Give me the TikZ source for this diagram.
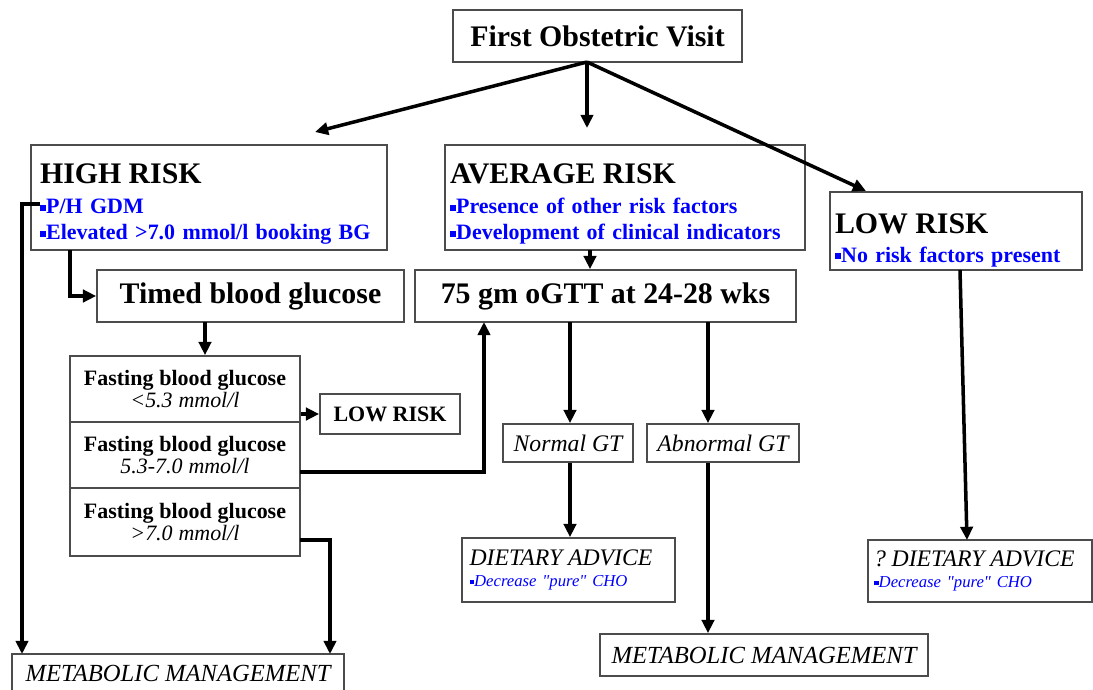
\documentclass[tikz,border=0pt]{standalone}
\usepackage{fontspec}
\setmainfont{Liberation Serif}
\newfontfamily\qfont{Liberation Serif}
\usetikzlibrary{arrows.meta, positioning}
\tikzstyle{box}=[draw=black!70, line width=1pt, shape=rectangle, inner sep=0pt, align=center]
\tikzstyle{arr}=[line width=2pt, -{Triangle[length=7.5pt,width=7pt]}]
\newcommand{\sqb}{\rule[0.28ex]{0.28em}{0.28em}}
\newcommand{\qt}{{\qfont\itshape"}}

\begin{document}
\begin{tikzpicture}[x=0.02cm, y=-0.02cm]
	\useasboundingbox (0,0) rectangle (1093,690);

	\node[style=box, minimum width=5.78cm, minimum height=1.04cm, font=\fontsize{17}{20}\selectfont\bfseries] (1) at (597.5,36) {First Obstetric Visit};
	\node[style=box, minimum width=7.12cm, minimum height=2.1cm, text width=6.76cm, align=left, font=\fontsize{12.5}{15}\selectfont] (2) at (209,197.5) {\rule{0pt}{19pt}\fontsize{17}{20}\selectfont\bfseries HIGH RISK\\[2pt]\color{blue}\fontsize{12.5}{15}\selectfont \sqb P/H GDM\\\sqb Elevated >7.0 mmol/l booking BG};
	\node[style=box, minimum width=7.2cm, minimum height=2.1cm, text width=7cm, align=left, font=\fontsize{12.5}{15}\selectfont] (3) at (625,197.5) {\rule{0pt}{19pt}\fontsize{17}{20}\selectfont\bfseries AVERAGE RISK\\[2pt]\color{blue}\fontsize{12.5}{15}\selectfont \sqb Presence of other risk factors\\\sqb Development of clinical indicators};
	\node[style=box, minimum width=5.04cm, minimum height=1.56cm, text width=4.84cm, align=left, font=\fontsize{12.5}{15}\selectfont] (4) at (956,231) {\rule{0pt}{22pt}\fontsize{17}{20}\selectfont\bfseries LOW RISK\\[1pt]\color{blue}\fontsize{12.5}{15}\selectfont \sqb No risk factors present};
	\node[style=box, minimum width=6.14cm, minimum height=1.04cm, font=\fontsize{17}{20}\selectfont\bfseries] (5) at (250.5,296) {Timed blood glucose};
	\node[style=box, minimum width=7.62cm, minimum height=1.04cm, font=\fontsize{17}{20}\selectfont\bfseries] (6) at (605.5,296) {75 gm oGTT at 24-28 wks};
	\node[style=box, minimum width=4.6cm, minimum height=1.32cm, text width=4.6cm] (7) at (185,389) {\fontsize{12.5}{15}\selectfont\bfseries Fasting blood glucose\\\mdseries\itshape <5.3 mmol/l};
	\node[style=box, minimum width=4.6cm, minimum height=1.32cm, text width=4.6cm] (8) at (185,455) {\fontsize{12.5}{15}\selectfont\bfseries Fasting blood glucose\\\mdseries\itshape 5.3-7.0 mmol/l};
	\node[style=box, minimum width=4.6cm, minimum height=1.36cm, text width=4.6cm] (9) at (185,522) {\fontsize{12.5}{15}\selectfont\bfseries Fasting blood glucose\\\mdseries\itshape >7.0 mmol/l};
	\node[style=box, minimum width=2.8cm, minimum height=0.8cm, font=\fontsize{12.5}{15}\selectfont\bfseries] (10) at (390,414) {LOW RISK};
	\node[style=box, minimum width=2.6cm, minimum height=0.76cm, font=\fontsize{13.5}{16}\selectfont\itshape] (11) at (568,443) {Normal GT};
	\node[style=box, minimum width=3.04cm, minimum height=0.76cm, font=\fontsize{13.5}{16}\selectfont\itshape] (12) at (723,443) {Abnormal GT};
	\node[style=box, minimum width=4.26cm, minimum height=1.28cm, text width=3.96cm, align=left] (13) at (568.5,570) {\fontsize{13.5}{16}\selectfont\itshape DIETARY ADVICE\\\color{blue}\fontsize{9.5}{12}\selectfont \sqb Decrease \qt pure\qt\ CHO};
	\node[style=box, minimum width=4.48cm, minimum height=1.24cm, text width=4.24cm, align=left] (14) at (980,571) {\fontsize{13.5}{16}\selectfont\itshape ?\ DIETARY ADVICE\\\color{blue}\fontsize{9.5}{12}\selectfont \sqb Decrease \qt pure\qt\ CHO};
	\node[style=box, minimum width=6.64cm, minimum height=0.78cm, font=\fontsize{14}{17}\selectfont\itshape] (15) at (178,673.5) {METABOLIC MANAGEMENT};
	\node[style=box, minimum width=6.56cm, minimum height=0.84cm, font=\fontsize{14}{17}\selectfont\itshape] (16) at (764,655) {METABOLIC MANAGEMENT};

	% bends and free ends
	\coordinate (c0) at (587,62);
	\coordinate (e1) at (315,132);
	\coordinate (e2) at (587,128);
	\coordinate (e3) at (866,191);
	\coordinate (c1) at (590,250);
	\coordinate (c2) at (70,250);
	\coordinate (c3) at (40,204);
	\coordinate (c4) at (22,654);
	\coordinate (c5) at (205,322);
	\coordinate (c6) at (300,472);
	\coordinate (c7) at (484,322);
	\coordinate (c8) at (300,540);
	\coordinate (c9) at (330,654);
	\coordinate (c10) at (570,322);
	\coordinate (c11) at (708,322);
	\coordinate (c12) at (960,270);
	\coordinate (c13) at (967,540);

	\draw[arr] (c0) to (e1);
	\draw[arr] (c0) to (e2);
	\draw[arr] (c0) to (e3);
	\draw[arr] (c1) to (c1 |- 6.north);
	\draw[arr] (c2) |- (5.west);
	\draw[arr] (c3) -| (c4);
	\draw[arr] (c5) to (c5 |- 7.north);
	\draw[arr] (10.west -| 7.east) to (10.west);
	\draw[arr] (c6) -| (c7);
	\draw[arr] (c8) -| (c9);
	\draw[arr] (c10) to (c10 |- 11.north);
	\draw[arr] (c11) to (c11 |- 12.north);
	\draw[arr] (c10 |- 11.south) to (c10 |- 13.north);
	\draw[arr] (c11 |- 12.south) to (c11 |- 16.north);
	\draw[arr] (c12) to (c13);
\end{tikzpicture}
\end{document}
